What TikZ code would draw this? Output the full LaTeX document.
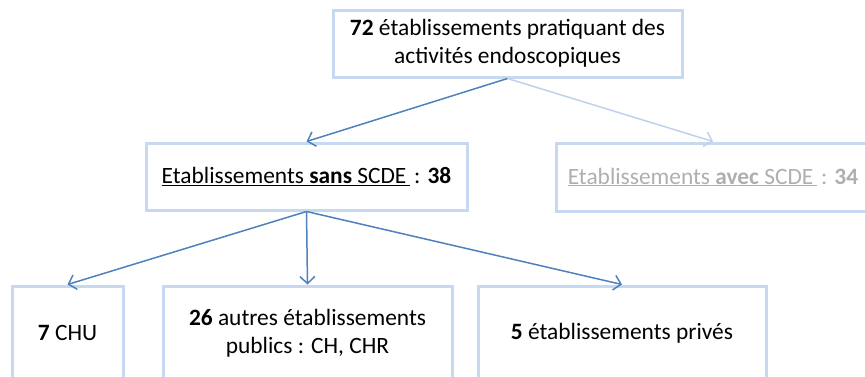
\documentclass[tikz,border=0pt]{standalone}
\usepackage{fontspec}
\setmainfont{Carlito}
\usetikzlibrary{arrows.meta}
\definecolor{boxline}{RGB}{198,217,241}
\definecolor{arrowblue}{RGB}{79,129,189}
\definecolor{arrowfade}{RGB}{190,210,238}
\definecolor{fadetext}{RGB}{175,175,175}
\tikzset{
  box/.style={draw=boxline, line width=3pt, fill=white, inner sep=0pt,
    align=center, font=\fontsize{23.4}{28}\selectfont, text=black},
  link/.style={draw=arrowblue, line width=1.5pt,
    -{Straight Barb[length=7pt,width=15pt,line width=1.5pt]}},
  fadelink/.style={link, draw=arrowfade},
}
\begin{document}
\begin{tikzpicture}[x=1pt,y=-1pt]
\clip (0,0) rectangle (865,376);
\fill[white] (0,0) rectangle (865,376);
\node[box, minimum width=349pt, minimum height=67pt] (top) at (507.5,43.5)
  {\textbf{72} établissements pratiquant des\\activités endoscopiques};
\node[box, minimum width=321pt, minimum height=67pt] (sans) at (306.5,176.5)
  {\underline{Etablissements \textbf{sans} SCDE\,}\,: \textbf{38}};
\node[box, minimum width=314pt, minimum height=68pt, text=fadetext] (avec) at (713,177)
  {\underline{Etablissements \textbf{avec} SCDE\,}\,: \textbf{34}};
\node[box, minimum width=111pt, minimum height=94pt] (chu) at (67.5,333)
  {\textbf{7} CHU};
\node[box, minimum width=289pt, minimum height=94pt] (pub) at (307.5,333)
  {\textbf{26} autres établissements\\publics : CH, CHR};
\node[box, minimum width=288pt, minimum height=94pt] (priv) at (622,333)
  {\textbf{5} établissements privés};
\draw[link] (top.south) -- (sans.north);
\draw[fadelink] (top.south) -- (avec.north);
\draw[link] (sans.south) -- (chu.north);
\draw[link] (sans.south) -- (pub.north);
\draw[link] (sans.south) -- (priv.north);
\end{tikzpicture}
\end{document}
